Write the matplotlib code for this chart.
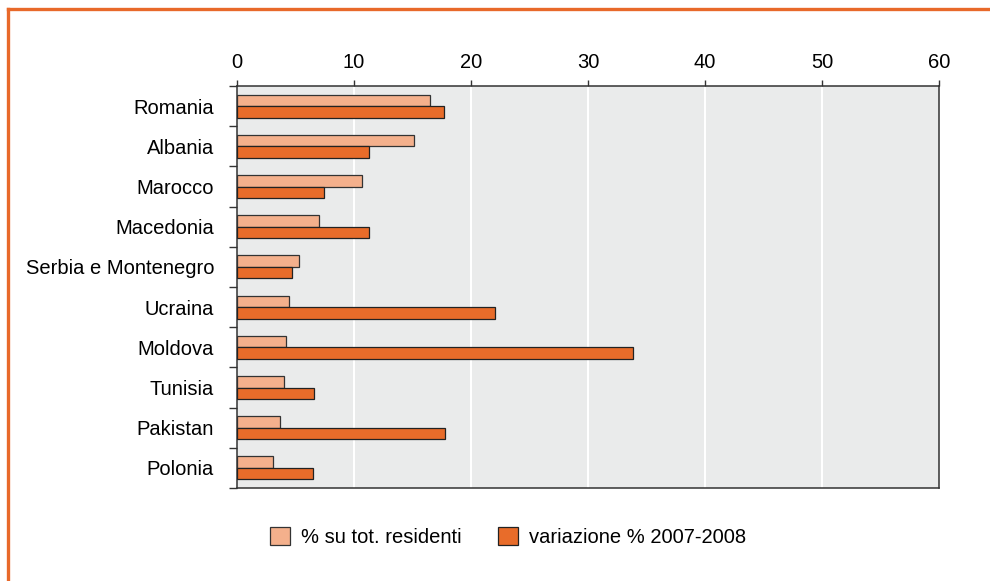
import numpy as np
import matplotlib
matplotlib.use('Agg')
import matplotlib.pyplot as plt
from matplotlib.lines import Line2D

plt.rcParams['font.family'] = ['Liberation Sans', 'DejaVu Sans']

paesi = ['Romania', 'Albania', 'Marocco', 'Macedonia', 'Serbia e Montenegro',
         'Ucraina', 'Moldova', 'Tunisia', 'Pakistan', 'Polonia']
quota_residenti = [16.5, 15.1, 10.7, 7.0, 5.3, 4.45, 4.2, 4.0, 3.7, 3.1]
variazione = [17.7, 11.3, 7.4, 11.3, 4.7, 22.05, 33.85, 6.6, 17.8, 6.5]
xticks = [0, 10, 20, 30, 40, 50, 60]

col_chiaro = '#F4B08C'
col_scuro = '#E86C2A'
col_cornice = '#E8692A'

fig = plt.figure(figsize=(9.9, 5.81), dpi=100)
ax = fig.add_axes([0.2394, 0.160, 0.7091, 0.692])
ax.set_facecolor('#EAEBEB')

y = np.arange(len(paesi))
h = 0.285
ax.barh(y - h / 2, quota_residenti, height=h, color=col_chiaro,
        edgecolor='#333333', linewidth=0.9, label='% su tot. residenti', zorder=3)
ax.barh(y + h / 2, variazione, height=h, color=col_scuro,
        edgecolor='#222222', linewidth=0.9, label='variazione % 2007-2008', zorder=3)

ax.set_xlim(0, 60)
ax.set_ylim(9.5, -0.5)
ax.set_xticks(xticks)
ax.xaxis.tick_top()
ax.tick_params(axis='x', length=4, width=1, color='#333333', pad=6, labelsize=14.5)
for xv in xticks[1:-1]:
    ax.axvline(xv, color='white', linewidth=1.5, zorder=1)

ax.set_yticks(np.arange(-0.5, len(paesi), 1))
ax.set_yticklabels([])
ax.set_yticks(y, minor=True)
ax.set_yticklabels(paesi, minor=True)
ax.tick_params(axis='y', which='major', length=6, width=1, color='#333333')
ax.tick_params(axis='y', which='minor', length=0, pad=16.5, labelsize=14.5)

for s in ax.spines.values():
    s.set_color('#333333')
    s.set_linewidth(1.1)

fig.legend(loc='center', bbox_to_anchor=(0.513, 0.076), ncol=2, frameon=False,
           fontsize=14.5, handlelength=1.0, handleheight=1.0, handletextpad=0.55,
           columnspacing=1.8)

# cornice arancione in alto e a sinistra
fig.add_artist(Line2D([8 / 990, 1], [1 - 9 / 581, 1 - 9 / 581],
                      color=col_cornice, linewidth=2.4))
fig.add_artist(Line2D([8 / 990, 8 / 990], [0, 1 - 9 / 581],
                      color=col_cornice, linewidth=2.4))

fig.savefig('out.png', dpi=100)
